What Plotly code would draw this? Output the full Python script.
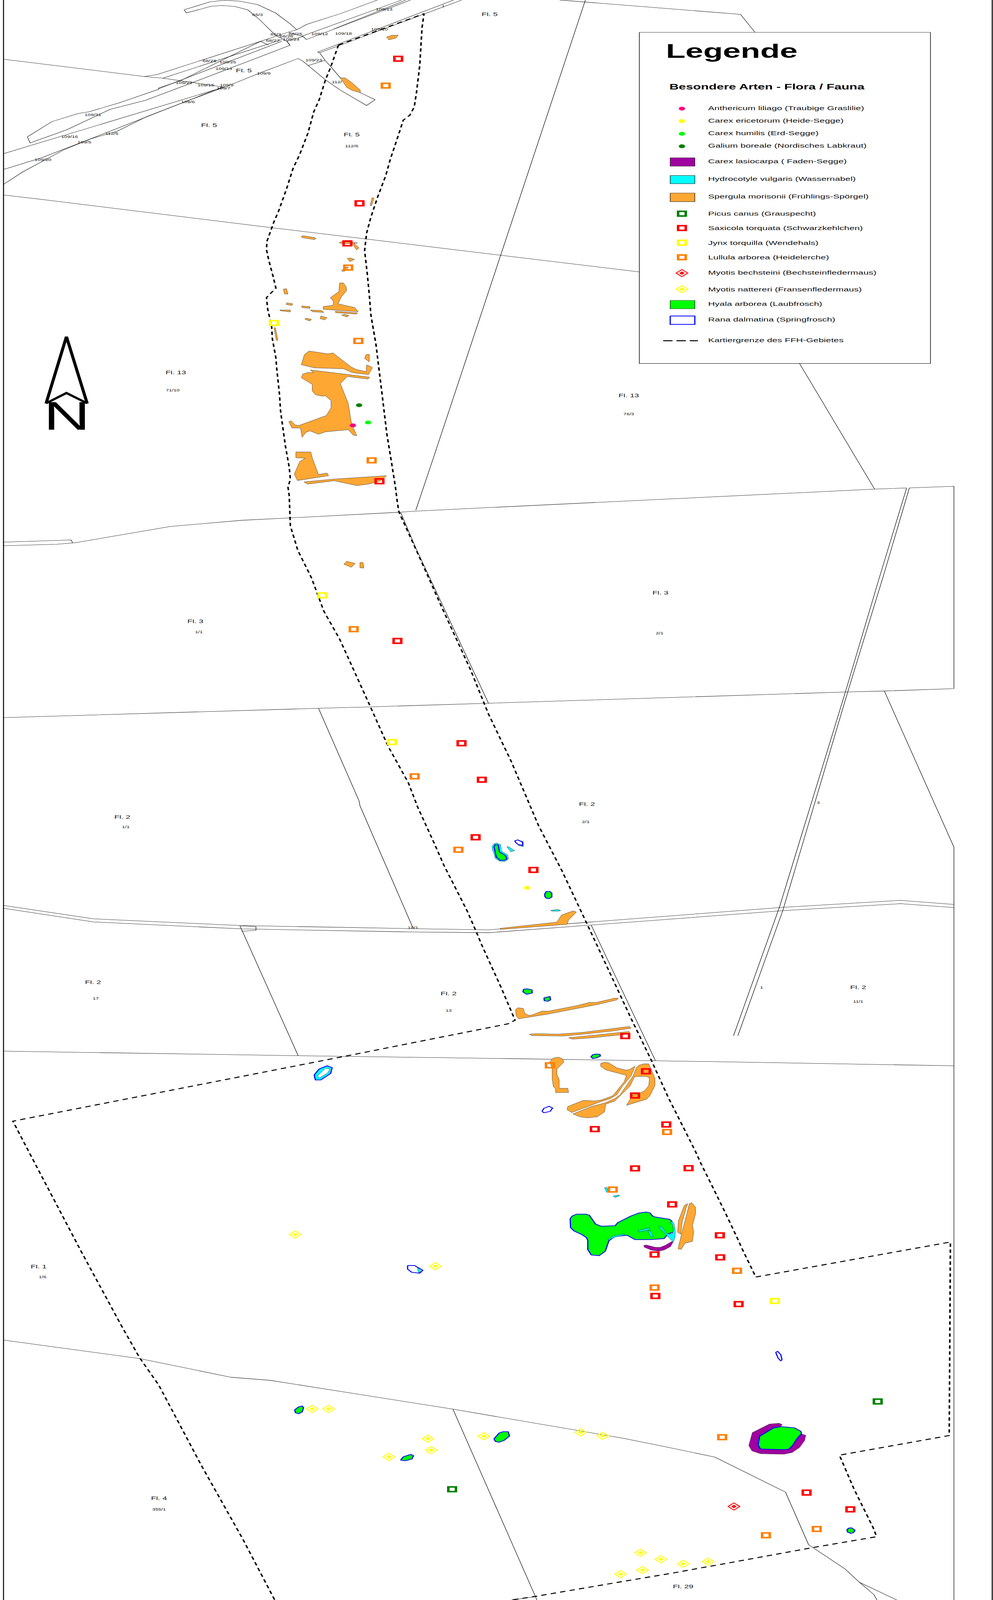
import plotly.graph_objects as go

W, H = 2541, 6673

# ---------- map readings, in pixels of the map sheet ----------
frame_lines = [([9, 9], [0, 6673]), ([2539, 2539], [0, 6673])]

parcel_lines = [
    ([471, 537, 575, 614, 659, 705, 742, 759], [41, 8, 1, 5, 19, 54, 99, 123]),
    ([471, 477, 541, 570, 601, 634, 663, 705, 734, 742], [41, 54, 26, 23, 27, 41, 80, 147, 172, 189]),
    ([966, 871, 784, 767, 759, 738, 667, 402, 369], [0, 57, 102, 118, 124, 134, 172, 311, 319]),
    ([1028, 774, 784, 1051], [0, 150, 165, 0]),
    ([854, 1039], [121, 0]),
    ([1161, 813, 818, 1182], [0, 217, 220, 0]),
    ([1134, 1134], [19, 31]),
    ([818, 832, 846, 871, 900, 925, 960, 938, 871, 832, 775, 763], [220, 252, 277, 325, 367, 389, 416, 440, 376, 332, 255, 244]),
    ([763, 672, 580, 489, 377, 299, 232, 162, 58, 9], [244, 300, 360, 415, 485, 548, 579, 626, 717, 769]),
    ([775, 734, 742, 477, 373, 282, 170, 77, 70, 133, 201, 228, 303, 405, 406, 460, 667], [152, 172, 189, 354, 418, 456, 542, 596, 571, 507, 473, 466, 430, 373, 367, 338, 172]),
    ([417, 721], [326, 165]),
    ([406, 721], [370, 172]),
    ([667, 687], [172, 188]),
    ([738, 775], [134, 152]),
    ([788, 832], [274, 251]),
    ([9, 572], [641, 364]),
    ([9, 108, 232, 568], [707, 657, 579, 364]),
    ([9, 369, 417, 576], [247, 319, 326, 364]),
    ([9, 124, 697, 954, 1100, 1636], [813, 835, 950, 1000, 1029, 1134]),
    ([1498, 1111, 1064], [0, 1900, 2128]),
    ([1432, 1895, 1932], [0, 60, 135]),
    ([2046, 2238], [1516, 2040]),
    ([9, 182, 186], [2261, 2252, 2264]),
    ([9, 144, 191, 435, 618, 742, 1025, 1062, 1250, 2238, 2320], [2276, 2270, 2264, 2196, 2170, 2160, 2136, 2132, 2117, 2040, 2035]),
    ([2327, 2441, 2441, 2263, 2168, 1250, 949, 815, 9], [2035, 2028, 2872, 2882, 2886, 2933, 2948, 2954, 2993]),
    ([2320, 2250, 2164, 1995, 1877], [2035, 2410, 2882, 3781, 4320]),
    ([2327, 2259, 2170, 2003, 1888], [2035, 2410, 2882, 3798, 4320]),
    ([9, 239, 614, 1053, 1250, 1507, 1995, 2304, 2441], [3776, 3832, 3860, 3873, 3878, 3846, 3785, 3755, 3772]),
    ([9, 239, 618, 1053, 1250, 1513, 2003, 2304, 2441], [3788, 3845, 3874, 3887, 3890, 3858, 3798, 3769, 3785]),
    ([614, 655, 655, 618], [3861, 3865, 3880, 3884]),
    ([815, 919, 921, 1057], [2954, 3341, 3360, 3871]),
    ([1025, 1065, 1250], [2136, 2289, 2933]),
    ([2263, 2441, 2441], [2882, 3533, 6673]),
    ([1513, 1677], [3859, 4423]),
    ([614, 763], [3861, 4403]),
    ([9, 763, 1300, 1800, 2441], [4384, 4403, 4415, 4427, 4445]),
    ([9, 357, 591, 692, 1159, 1593, 1700, 1829, 2010, 2069, 2162, 2199, 2236, 2244], [5589, 5666, 5744, 5757, 5877, 5998, 6033, 6077, 6223, 6442, 6543, 6599, 6650, 6673]),
    ([2199, 2295], [6599, 6673]),
    ([1159, 1370, 1374], [5877, 6658, 6673]),
    ([1370, 1309], [6659, 6673]),
]

boundary_north = (
    [866, 1085, 1080, 1074, 1066, 1060, 1049, 1032, 1020, 999, 987, 966, 949, 938, 933, 940, 945, 949, 962, 977, 990, 1000, 1012, 1017, 1021, 1069, 1132, 1204, 1250, 1308, 1378, 1439, 1500, 1533, 1617, 1667, 1710, 1779, 1794, 1821, 1859, 1890, 1896, 1934],
    [188, 57, 115, 274, 383, 446, 480, 501, 561, 663, 733, 823, 906, 973, 1045, 1145, 1229, 1313, 1436, 1635, 1811, 1910, 2033, 2098, 2136, 2308, 2538, 2793, 2978, 3175, 3443, 3635, 3846, 3961, 4255, 4423, 4577, 4800, 4854, 4942, 5068, 5175, 5198, 5326],
)
boundary_west = (
    [866, 846, 833, 817, 803, 788, 767, 750, 734, 713, 701, 683, 682, 688, 700, 706, 688, 682, 685, 695, 697, 706, 708, 715, 718, 730, 740, 743, 737, 740, 743, 762, 797, 829, 869, 917, 949, 993, 1045, 1069, 1112, 1136, 1196, 1220, 1233, 1283, 1318, 1300, 896, 33, 100, 207, 311, 357, 406, 514, 622, 703],
    [188, 281, 332, 415, 466, 555, 644, 702, 784, 880, 925, 1007, 1042, 1087, 1160, 1202, 1231, 1241, 1290, 1359, 1413, 1493, 1535, 1642, 1715, 1857, 1948, 1998, 2033, 2066, 2193, 2295, 2410, 2550, 2665, 2837, 2952, 3112, 3265, 3367, 3520, 3609, 3801, 3891, 3942, 4121, 4255, 4270, 4401, 4676, 4885, 5217, 5530, 5662, 5776, 6108, 6421, 6673],
)
boundary_south = (
    [1934, 2432, 2429, 2148, 2185, 2202, 2236, 2243, 2081, 1829, 1797, 1724, 1618, 1370, 1309],
    [5326, 5180, 5987, 6069, 6209, 6265, 6377, 6409, 6454, 6529, 6538, 6560, 6589, 6658, 6673],
)

spergula_patches = [
    ([989, 1003, 1019, 1013, 995], [155, 147, 147, 159, 166]),
    ([871, 883, 900, 922, 922, 900, 887], [325, 325, 344, 376, 387, 376, 364]),
    ([952, 957, 951, 947], [825, 826, 857, 857]),
    ([771, 776, 805, 809, 804, 773], [986, 983, 991, 995, 999, 991]),
    ([868, 876, 915, 906, 919, 912, 902, 873], [1012, 1007, 1013, 1015, 1034, 1042, 1016, 1015]),
    ([889, 897, 907, 895], [1078, 1076, 1082, 1091]),
    ([874, 882, 892, 881], [1130, 1114, 1114, 1132]),
    ([869, 879, 886, 887, 873, 865, 908, 917, 827, 827, 853, 853, 845, 867], [1180, 1180, 1198, 1212, 1239, 1267, 1283, 1300, 1290, 1279, 1273, 1256, 1242, 1216]),
    ([725, 733, 737, 728], [1206, 1204, 1226, 1226]),
    ([734, 749, 747, 732], [1263, 1267, 1274, 1270]),
    ([716, 743, 743, 717], [1293, 1293, 1301, 1296]),
    ([772, 793, 793, 773], [1276, 1279, 1286, 1283]),
    ([794, 823, 829, 800], [1293, 1295, 1303, 1300]),
    ([858, 915, 912, 859], [1298, 1305, 1310, 1304]),
    ([874, 882, 893, 887], [1314, 1311, 1316, 1322]),
    ([780, 783, 797, 793], [1331, 1327, 1332, 1339]),
    ([819, 821, 837, 831], [1329, 1318, 1325, 1334]),
    ([701, 705, 711, 707], [1367, 1367, 1419, 1419]),
    ([771, 779, 791, 839, 852, 899, 912, 937, 938, 948, 953, 943, 920, 902, 879, 804], [1521, 1479, 1464, 1476, 1472, 1531, 1541, 1550, 1522, 1528, 1534, 1562, 1558, 1554, 1538, 1534]),
    ([933, 937, 945, 945], [1495, 1478, 1478, 1509]),
    ([794, 946, 942, 889, 871, 891, 899, 900, 913, 904, 891, 833, 815, 793, 783, 773, 769, 747, 739, 745, 755, 764, 835, 847, 847, 833, 823, 807, 799, 799, 771, 775, 787, 803], [1543, 1573, 1581, 1570, 1600, 1682, 1761, 1769, 1817, 1815, 1792, 1801, 1811, 1797, 1803, 1824, 1785, 1785, 1759, 1755, 1772, 1775, 1733, 1701, 1671, 1651, 1652, 1646, 1631, 1603, 1575, 1560, 1554, 1554]),
    ([757, 795, 800, 815, 837, 841, 761, 753, 767, 781, 757], [1885, 1885, 1914, 1979, 1973, 1984, 2004, 1977, 1925, 1911, 1909]),
    ([778, 855, 989, 973, 943, 913, 855, 787], [2010, 1998, 1984, 2006, 2019, 2025, 2005, 2019]),
    ([880, 887, 909, 899], [2353, 2341, 2350, 2366]),
    ([921, 929, 931, 921], [2346, 2346, 2369, 2368]),
    ([1279, 1425, 1437, 1467, 1475, 1455, 1451, 1283], [3872, 3846, 3816, 3799, 3804, 3837, 3855, 3876]),
    ([1319, 1325, 1339, 1343, 1351, 1360, 1387, 1404, 1477, 1508, 1526, 1573, 1582, 1579, 1527, 1400, 1327, 1321], [4211, 4203, 4206, 4225, 4234, 4234, 4217, 4217, 4194, 4181, 4181, 4163, 4163, 4170, 4190, 4230, 4249, 4237]),
    ([1355, 1372, 1427, 1490, 1611, 1615, 1567, 1493, 1442, 1360], [4313, 4311, 4313, 4306, 4281, 4288, 4300, 4313, 4321, 4319]),
    ([1455, 1517, 1610, 1611, 1517, 1465], [4328, 4318, 4302, 4312, 4328, 4334]),
    ([1407, 1415, 1429, 1439, 1443, 1425, 1425, 1431, 1431, 1453, 1455, 1422, 1421, 1416, 1413, 1413, 1410], [4428, 4413, 4409, 4416, 4429, 4459, 4480, 4503, 4539, 4539, 4556, 4557, 4539, 4532, 4500, 4457, 4443]),
    ([1537, 1546, 1558, 1579, 1602, 1610, 1625, 1615, 1593, 1579, 1562, 1540, 1463, 1451, 1453, 1493, 1522, 1540, 1568, 1597, 1603, 1550, 1537], [4435, 4431, 4433, 4454, 4463, 4461, 4447, 4487, 4530, 4565, 4582, 4593, 4640, 4628, 4615, 4589, 4592, 4587, 4570, 4512, 4485, 4462, 4447]),
    ([1628, 1635, 1647, 1660, 1676, 1676, 1667, 1663, 1655, 1603, 1615, 1620, 1637, 1650, 1660, 1662, 1655, 1630, 1623, 1612, 1587, 1573, 1550, 1547, 1528, 1503, 1485, 1466, 1513, 1548, 1572, 1586, 1602, 1620], [4453, 4443, 4437, 4437, 4497, 4527, 4557, 4570, 4584, 4610, 4577, 4565, 4560, 4548, 4528, 4498, 4489, 4489, 4493, 4530, 4570, 4592, 4605, 4637, 4658, 4662, 4658, 4646, 4615, 4600, 4583, 4567, 4530, 4487]),
    ([1751, 1760, 1756, 1746, 1742, 1734, 1736], [5028, 5020, 5037, 5095, 5148, 5139, 5091]),
    ([1764, 1770, 1780, 1780, 1772, 1775, 1772, 1753, 1743, 1735, 1746, 1754], [5020, 5016, 5035, 5062, 5110, 5139, 5177, 5185, 5211, 5208, 5133, 5085]),
]

hydrocotyle_patches = [
    ([1259, 1263, 1271, 1281, 1283, 1299, 1301, 1292, 1278, 1267, 1263, 1261], [3531, 3520, 3516, 3523, 3550, 3565, 3582, 3593, 3591, 3579, 3553, 3550]),
    ([1297, 1301, 1317, 1307], [3532, 3531, 3548, 3552]),
    ([1333, 1339, 1339, 1326, 1337, 1337], [3507, 3510, 3531, 3525, 3526, 3512]),
    ([1409, 1427, 1435, 1430, 1413], [3797, 3793, 3797, 3800, 3800]),
]
hydrocotyle_over_frog = [
    ([1067, 1078, 1071], [5283, 5302, 5308]),
    ([1547, 1553, 1556, 1552], [4954, 4952, 4972, 4972]),
    ([1569, 1584, 1585, 1574], [4988, 4984, 4988, 4994]),
    ([1633, 1662, 1663, 1635], [5132, 5121, 5129, 5138]),
    ([1658, 1663, 1672, 1666], [5134, 5132, 5157, 5159]),
    ([1686, 1692, 1707, 1721, 1723, 1720, 1714, 1721, 1725, 1728, 1727, 1723], [5118, 5115, 5146, 5146, 5129, 5105, 5099, 5095, 5106, 5137, 5162, 5180]),
    ([1555, 1571, 1597, 1598, 1574, 1558], [5169, 5154, 5146, 5151, 5159, 5172]),
]
lasiocarpa_patches = [
    ([1647, 1653, 1677, 1690, 1702, 1720, 1722, 1716, 1700, 1686, 1667, 1649], [5195, 5192, 5202, 5202, 5194, 5177, 5181, 5199, 5213, 5218, 5214, 5202]),
    ([1916, 1925, 1969, 1994, 2002, 1998, 1979, 1945, 1939, 1947, 2006, 2019, 2030, 2039, 2052, 2062, 2059, 2046, 2027, 2006, 1946, 1924], [6029, 5975, 5939, 5936, 5942, 5948, 5954, 5987, 6029, 6044, 6046, 6043, 6028, 6001, 5981, 5986, 6008, 6037, 6058, 6065, 6063, 6051]),
]
hyla_patches = [
    ([1264, 1268, 1275, 1278, 1294, 1297, 1290, 1280, 1270, 1267], [3531, 3522, 3524, 3553, 3569, 3583, 3588, 3588, 3575, 3553]),
    ([1394, 1398, 1407, 1412, 1412, 1405, 1398, 1394], [3728, 3718, 3718, 3725, 3741, 3748, 3746, 3738]),
    ([1338, 1340, 1349, 1361, 1362, 1348], [4137, 4126, 4124, 4128, 4141, 4147]),
    ([1392, 1407, 1409, 1402, 1393], [4162, 4156, 4170, 4176, 4174]),
    ([1512, 1518, 1527, 1535, 1536, 1525, 1517], [4407, 4398, 4396, 4397, 4405, 4413, 4415]),
    ([1459, 1465, 1475, 1500, 1508, 1524, 1538, 1574, 1581, 1614, 1635, 1653, 1663, 1670, 1677, 1713, 1718, 1723, 1725, 1710, 1699, 1664, 1625, 1605, 1580, 1572, 1558, 1549, 1533, 1513, 1504, 1504, 1501, 1489, 1469, 1460], [5082, 5071, 5064, 5064, 5068, 5105, 5114, 5112, 5099, 5072, 5059, 5055, 5058, 5072, 5076, 5085, 5091, 5106, 5137, 5146, 5166, 5170, 5170, 5152, 5156, 5159, 5175, 5218, 5237, 5234, 5211, 5174, 5162, 5149, 5134, 5120]),
    ([754, 764, 773, 777, 773, 764, 756], [5880, 5868, 5864, 5871, 5889, 5896, 5892]),
    ([1025, 1032, 1051, 1058, 1054, 1038], [6090, 6076, 6066, 6071, 6085, 6092]),
    ([1264, 1277, 1287, 1300, 1304, 1290, 1277, 1268], [6001, 5977, 5971, 5971, 5989, 6007, 6015, 6012]),
    ([1940, 1944, 1979, 1999, 2033, 2049, 2051, 2039, 2028, 2018, 2006, 1946], [6026, 5990, 5956, 5950, 5955, 5969, 5979, 6001, 6029, 6044, 6046, 6043]),
    ([2167, 2172, 2179, 2188, 2184, 2177, 2169], [6380, 6373, 6372, 6382, 6392, 6395, 6390]),
]
rana_open_patches = [
    ([1317, 1325, 1337, 1337, 1326, 1321], [3507, 3503, 3512, 3526, 3522, 3516]),
    ([1387, 1392, 1405, 1414, 1408, 1392], [4635, 4622, 4614, 4621, 4635, 4641]),
    ([1043, 1061, 1082, 1074, 1053, 1043], [5278, 5278, 5298, 5310, 5306, 5293]),
    ([1985, 1990, 1998, 2001, 1998, 1991], [5640, 5636, 5650, 5670, 5676, 5664]),
]
rana_pond_rim = ([804, 817, 837, 850, 846, 821, 807], [4483, 4458, 4445, 4453, 4477, 4504, 4504])
pond_centre = ([813, 833, 844, 839, 817], [4487, 4455, 4458, 4474, 4496])

saxicola_x = [1019, 920, 889, 971, 1017, 1181, 1233, 1217, 1365, 1600, 1653, 1625, 1522, 1705, 1625, 1762, 1720, 1842, 1675, 1843, 1677, 1890, 2064, 2176]
saxicola_y = [245, 848, 1015, 2007, 2673, 3100, 3252, 3492, 3628, 4321, 4468, 4569, 4709, 4690, 4873, 4872, 5023, 5152, 5232, 5244, 5405, 5439, 6225, 6295]
lullula_x = [987, 891, 917, 951, 905, 1061, 1173, 1407, 1707, 1568, 1886, 1675, 1848, 2090, 1960]
lullula_y = [357, 1116, 1422, 1920, 2624, 3238, 3544, 4443, 4721, 4961, 5300, 5370, 5994, 6377, 6403]
jynx_x = [701, 825, 1003, 1983]
jynx_y = [1347, 2483, 3095, 5426]
picus_x = [1157, 2246]
picus_y = [6211, 5845]
nattereri_x = [755, 1114, 799, 841, 1095, 1103, 995, 1238, 1486, 1542, 1639, 1691, 1644, 1588, 1748, 1812]
nattereri_y = [5149, 5281, 5876, 5876, 6000, 6048, 6076, 5990, 5974, 5988, 6476, 6503, 6548, 6565, 6522, 6513]
bechsteini_x = [1878]
bechsteini_y = [6283]
anthericum_x, anthericum_y = [903], [1774]
ericetorum_x, ericetorum_y = [1349], [3703]
humilis_x, humilis_y = [942], [1762]
galium_x, galium_y = [919], [1690]

sheet_labels = ["Fl. 5", "Fl. 5", "Fl. 5", "Fl. 5", "Fl. 13", "Fl. 13", "Fl. 3", "Fl. 3", "Fl. 2", "Fl. 2", "Fl. 2", "Fl. 2", "Fl. 2", "Fl. 1", "Fl. 4", "Fl. 29"]
sheet_x = [1253, 624, 535, 900, 450, 1609, 500, 1690, 313, 1502, 238, 1148, 2196, 99, 407, 1748]
sheet_y = [61, 296, 524, 563, 1555, 1651, 2593, 2475, 3409, 3355, 4098, 4146, 4120, 5285, 6250, 6619]

parcel_labels = ["65/3", "109/13", "65/2", "68/25", "68/26", "109/12", "109/18", "109/10", "68/27", "109/24", "68/28", "109/25", "109/23", "109/14", "109/8", "109/22", "109/15", "109/9", "109/7", "112/", "109/6", "109/31", "112/5", "109/16", "109/5", "112/6", "109/20", "71/10", "76/3", "1/1", "1/1", "2/1", "2/1", "3", "17", "13", "10/1", "1/6", "355/1", "11/1", "1"]
parcel_x = [659, 983, 706, 756, 733, 818, 879, 971, 698, 745, 536, 583, 803, 573, 675, 471, 527, 580, 572, 862, 481, 238, 286, 178, 216, 900, 110, 442, 1609, 509, 322, 1688, 1499, 2094, 245, 1148, 1057, 109, 407, 2196, 1949]
parcel_y = [64, 41, 145, 143, 153, 143, 141, 123, 171, 166, 255, 260, 253, 288, 308, 346, 357, 357, 369, 344, 427, 480, 558, 571, 594, 610, 668, 1629, 1728, 2637, 3451, 2642, 3429, 3349, 4166, 4216, 3871, 5327, 6296, 4179, 4120]

north_arrow = ([170, 118, 170, 223, 170], [1404, 1682, 1639, 1682, 1404])
north_letter = "N"

legend_frame = ([1636, 2381, 2381, 1636, 1636], [135, 135, 1516, 1516, 135])
legend_title = "Legende"
legend_heading = "Besondere Arten - Flora / Fauna"
legend_texts = [
    "Anthericum liliago (Traubige Graslilie)",
    "Carex ericetorum (Heide-Segge)",
    "Carex humilis (Erd-Segge)",
    "Galium boreale (Nordisches Labkraut)",
    "Carex lasiocarpa ( Faden-Segge)",
    "Hydrocotyle vulgaris (Wassernabel)",
    "Spergula morisonii (Frühlings-Spörgel)",
    "Picus canus (Grauspecht)",
    "Saxicola torquata (Schwarzkehlchen)",
    "Jynx torquilla (Wendehals)",
    "Lullula arborea (Heidelerche)",
    "Myotis bechsteini (Bechsteinfledermaus)",
    "Myotis nattereri (Fransenfledermaus)",
    "Hyala arborea (Laubfrosch)",
    "Rana dalmatina (Springfrosch)",
    "Kartiergrenze des FFH-Gebietes",
]
legend_text_y = [453, 505, 558, 610, 675, 748, 822, 894, 954, 1015, 1076, 1140, 1209, 1269, 1335, 1421]
legend_symbol_x = 1745
legend_square_y = [891, 951, 1012, 1073]
legend_diamond_y = [1139, 1206]
legend_swatch_x = [1715, 1778]
legend_swatch_rows = [(658, 693), (732, 766), (805, 841), (1253, 1288), (1318, 1353)]
legend_dash = ([1697, 1786], [1421, 1421])

# ---------- colours ----------
PINK, YELLOW, LIME, GREEN = "#ff0080", "#ffff00", "#00ff00", "#008000"
PURPLE, CYAN, AMBER = "#a000a0", "#00ffff", "#ffa733"
RED, ORANGE, BLUE = "#ff0000", "#ff8000", "#0000ff"
FONT = "Liberation Sans"

fig = go.Figure()


def joined(paths):
    xs, ys = [], []
    for px, py in paths:
        xs += list(px) + [None]
        ys += list(py) + [None]
    return xs, ys


def polygons(paths, fill, line, width, name):
    for px, py in paths:
        fig.add_trace(go.Scatter(
            x=list(px) + [px[0]], y=list(py) + [py[0]], mode="lines", fill="toself",
            fillcolor=fill, line=dict(color=line, width=width), name=name,
            hoverinfo="skip", showlegend=False))


def lines(paths, color, width, name, dash=None):
    xs, ys = joined(paths)
    fig.add_trace(go.Scatter(
        x=xs, y=ys, mode="lines", name=name, hoverinfo="skip", showlegend=False,
        line=dict(color=color, width=width, dash=dash, simplify=False)))


def points(xs, ys, symbol, size, color, name, line_width=0):
    fig.add_trace(go.Scatter(
        x=xs, y=ys, mode="markers", name=name, hoverinfo="skip", showlegend=False,
        marker=dict(symbol=symbol, size=size, color=color,
                    line=dict(color=color, width=line_width))))


def squares(xs, ys, color, name):
    points(xs, ys, "square-open", 19.5, color, name, 6.5)


def diamonds(xs, ys, color, name):
    points(xs, ys, "diamond-open", 23, color, name, 3)
    points(xs, ys, "diamond", 11, color, name)


def labels(texts, xs, ys, size, color="#111111", bold=False, position="middle center", family=FONT):
    fig.add_trace(go.Scatter(
        x=xs, y=ys, mode="text", text=texts, textposition=position, hoverinfo="skip",
        showlegend=False,
        textfont=dict(family=family, size=size, color=color,
                      weight="bold" if bold else "normal")))


# ---------- map ----------
lines(parcel_lines, "#000000", 1.3, "Flurstücke")
lines(frame_lines, "#000000", 2.5, "Rahmen")

polygons(lasiocarpa_patches, PURPLE, "#333333", 1, "Carex lasiocarpa")
polygons(hydrocotyle_patches, CYAN, "#222222", 1, "Hydrocotyle vulgaris")
polygons(spergula_patches, AMBER, "#333333", 1, "Spergula morisonii")
polygons(hyla_patches, LIME, BLUE, 3, "Hyala arborea")
polygons(rana_open_patches, "rgba(0,0,0,0)", BLUE, 3, "Rana dalmatina")
polygons([rana_pond_rim], CYAN, BLUE, 3, "Rana dalmatina")
polygons([pond_centre], "#ffffff", "#333333", 1, "Gewässer")
polygons(hydrocotyle_over_frog, CYAN, "#222222", 1, "Hydrocotyle vulgaris")

dash_pattern = "14px,11px"
lines([boundary_north], "#000000", 4, "Kartiergrenze", dash_pattern)
lines([boundary_west], "#000000", 4, "Kartiergrenze", dash_pattern)
lines([boundary_south], "#000000", 4, "Kartiergrenze", dash_pattern)

points(anthericum_x, anthericum_y, "circle", 16, PINK, "Anthericum liliago")
points(ericetorum_x, ericetorum_y, "circle", 16, YELLOW, "Carex ericetorum")
points(humilis_x, humilis_y, "circle", 16, LIME, "Carex humilis")
points(galium_x, galium_y, "circle", 16, GREEN, "Galium boreale")
squares(picus_x, picus_y, GREEN, "Picus canus")
squares(saxicola_x, saxicola_y, RED, "Saxicola torquata")
squares(jynx_x, jynx_y, YELLOW, "Jynx torquilla")
squares(lullula_x, lullula_y, ORANGE, "Lullula arborea")
diamonds(bechsteini_x, bechsteini_y, RED, "Myotis bechsteini")
diamonds(nattereri_x, nattereri_y, YELLOW, "Myotis nattereri")

labels(sheet_labels, sheet_x, sheet_y, 21)
labels(parcel_labels, parcel_x, parcel_y, 14)

lines([north_arrow], "#000000", 8, "Nordpfeil")
labels([north_letter], [171], [1751], 165, "#000000", False)

# ---------- legend ----------
polygons([legend_frame], "#ffffff", "#000000", 1.5, "Legende")
labels([legend_title], [1704], [221], 82, "#000000", True, "middle right")
labels([legend_heading], [1713], [365], 33, "#000000", True, "middle right")
labels(legend_texts, [1812] * len(legend_texts), legend_text_y, 24, "#111111", False, "middle right")

dot_colors = [PINK, YELLOW, LIME, GREEN]
for y, c in zip(legend_text_y[:4], dot_colors):
    points([legend_symbol_x], [y], "circle", 16, c, "Legende")

swatch_styles = [(PURPLE, "#222222", 1.5), (CYAN, "#222222", 1.5), (AMBER, "#222222", 1.5),
                 (LIME, "#222222", 1.5), ("#ffffff", BLUE, 3)]
for (top, bottom), (fill, edge, width) in zip(legend_swatch_rows, swatch_styles):
    x0, x1 = legend_swatch_x
    polygons([([x0, x1, x1, x0], [top, top, bottom, bottom])], fill, edge, width, "Legende")

for y, c in zip(legend_square_y, [GREEN, RED, YELLOW, ORANGE]):
    squares([legend_symbol_x], [y], c, "Legende")
for y, c in zip(legend_diamond_y, [RED, YELLOW]):
    diamonds([legend_symbol_x], [y], c, "Legende")
lines([legend_dash], "#000000", 4, "Legende", "24px,10px")

# The sheet is laid out at its full size; the page scales it to the window it is
# given, which leaves it untouched in a 2541x6673 window.
fig.update_layout(
    width=W, height=H, margin=dict(l=0, r=0, t=0, b=0),
    paper_bgcolor="#ffffff", plot_bgcolor="#ffffff", showlegend=False,
    xaxis=dict(range=[0, W], visible=False, fixedrange=True),
    yaxis=dict(range=[H, 0], visible=False, fixedrange=True),
)
fit_page = (
    "document.documentElement.style.overflow='hidden';"
    "document.body.style.margin='0';"
    "var sheet=document.querySelector('.plotly-graph-div');"
    "sheet.style.transformOrigin='0 0';"
    f"sheet.style.transform='scale('+(window.innerWidth/{W})+','+(window.innerHeight/{H})+')';"
)
fig.write_html("out.html", config={"displayModeBar": False}, post_script=fit_page)
